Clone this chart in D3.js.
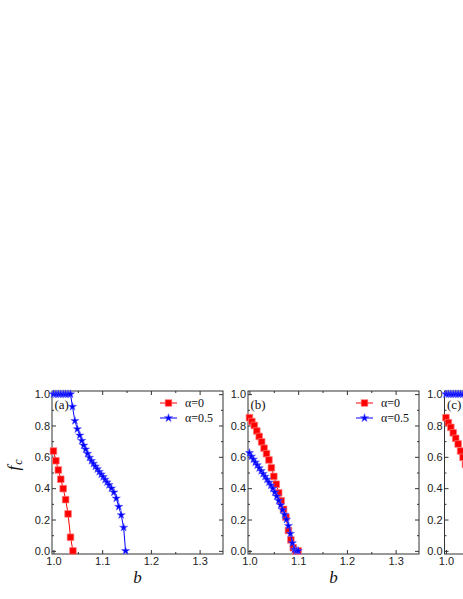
<!DOCTYPE html>
<html>
<head>
<meta charset="utf-8">
<script src="https://cdn.jsdelivr.net/npm/d3@7"></script>
<style>
  html, body { margin: 0; padding: 0; background: #fff; }
  svg { display: block; }
</style>
</head>
<body>
<svg id="chart" width="463" height="599"></svg>
<script>
// ---- data ----
const panelNames = ["(a)", "(b)", "(c)"];
const seriesNames = ["α=0", "α=0.5"];
const xTicks = [1.0, 1.1, 1.2, 1.3];
const xMinor = [1.05, 1.15, 1.25];
const yTicks = [0.0, 0.2, 0.4, 0.6, 0.8, 1.0];
const yMinor = [0.1, 0.3, 0.5, 0.7, 0.9];

// panel (a)
const redA_b = [1.000, 1.005, 1.010, 1.015, 1.020, 1.025, 1.030, 1.035, 1.040];
const redA_f = [0.637, 0.575, 0.516, 0.457, 0.397, 0.327, 0.236, 0.087, 0.000];
const blueA_b = [1.000, 1.005, 1.010, 1.015, 1.020, 1.025, 1.030, 1.035, 1.039, 1.044, 1.049,
                 1.054, 1.058, 1.062, 1.066, 1.070, 1.074, 1.078, 1.082, 1.086, 1.090, 1.094,
                 1.098, 1.102, 1.106, 1.110, 1.114, 1.119, 1.124, 1.129, 1.134, 1.139, 1.144, 1.148];
const blueA_f = [1.000, 1.000, 1.000, 1.000, 1.000, 1.000, 1.000, 1.000, 0.920, 0.830, 0.777,
                 0.737, 0.703, 0.673, 0.648, 0.620, 0.595, 0.575, 0.557, 0.539, 0.522, 0.505,
                 0.488, 0.472, 0.455, 0.438, 0.421, 0.399, 0.374, 0.335, 0.282, 0.229, 0.149, 0.000];

// panel (b)
const redB_b = [1.000, 1.005, 1.010, 1.015, 1.020, 1.025, 1.030, 1.035, 1.040, 1.045, 1.050,
                1.055, 1.060, 1.065, 1.070, 1.075, 1.080, 1.085, 1.090, 1.095, 1.100];
const redB_f = [0.850, 0.825, 0.800, 0.765, 0.730, 0.695, 0.655, 0.620, 0.580, 0.530, 0.475,
                0.425, 0.370, 0.320, 0.265, 0.215, 0.130, 0.070, 0.020, 0.000, 0.000];
const blueB_b = [1.000, 1.004, 1.008, 1.012, 1.016, 1.020, 1.024, 1.028, 1.032, 1.036, 1.040,
                 1.044, 1.048, 1.052, 1.056, 1.060, 1.064, 1.068, 1.072, 1.076, 1.080, 1.084,
                 1.088, 1.092, 1.096, 1.100];
const blueB_f = [0.625, 0.603, 0.584, 0.565, 0.547, 0.528, 0.510, 0.492, 0.474, 0.456, 0.437,
                 0.418, 0.398, 0.374, 0.348, 0.320, 0.292, 0.262, 0.232, 0.200, 0.160, 0.110,
                 0.050, 0.008, 0.000, 0.000];

// panel (c) (only its left edge is inside the picture)
const redC_b = [1.000, 1.005, 1.010, 1.015, 1.020, 1.025, 1.030, 1.035, 1.040];
const redC_f = [0.850, 0.818, 0.788, 0.753, 0.718, 0.682, 0.637, 0.597, 0.552];
const blueC_b = [1.000, 1.005, 1.010, 1.015, 1.020, 1.025, 1.030, 1.035, 1.040];
const blueC_f = [1.000, 1.000, 1.000, 1.000, 1.000, 1.000, 1.000, 1.000, 1.000];

// ---- layout ----
const W = 463, H = 599;
const panelLeft = [52, 248, 444.5];
const PW = 171, TOP = 391, BOTTOM = 554;
const RED = "#ff0000", BLUE = "#0000ff";
const SANS = "'Liberation Sans', Arial, sans-serif";
const SERIF = "'Liberation Serif', 'Times New Roman', serif";

const panels = [
  { red: [redA_b, redA_f], blue: [blueA_b, blueA_f], legend: true, xlabel: true },
  { red: [redB_b, redB_f], blue: [blueB_b, blueB_f], legend: true, xlabel: true },
  { red: [redC_b, redC_f], blue: [blueC_b, blueC_f], legend: false, xlabel: false }
];

const svg = d3.select("#chart");
svg.append("rect").attr("width", W).attr("height", H).attr("fill", "#fff");

const squareSym = d3.symbol().type(d3.symbolSquare).size(44);
const starSym = d3.symbol().type(d3.symbolStar).size(21);

panels.forEach((p, i) => {
  const L = panelLeft[i];
  const x = d3.scaleLinear().domain([0.997, 1.348]).range([L, L + PW]);
  const y = d3.scaleLinear().domain([-0.02, 1.02]).range([BOTTOM, TOP]);
  const g = svg.append("g");

  const fmt = d => (x(d) + 9 <= W ? d3.format(".1f")(d) : "");

  // bottom axis
  g.append("g").attr("transform", `translate(0,${BOTTOM})`)
    .call(d3.axisBottom(x).tickValues(xTicks).tickSize(-4).tickPadding(3).tickFormat(fmt));
  g.append("g").attr("transform", `translate(0,${BOTTOM})`)
    .call(d3.axisBottom(x).tickValues(xMinor).tickSize(-2).tickFormat(""));
  // top axis
  g.append("g").attr("transform", `translate(0,${TOP})`)
    .call(d3.axisTop(x).tickValues(xTicks).tickSize(-4).tickFormat(""));
  g.append("g").attr("transform", `translate(0,${TOP})`)
    .call(d3.axisTop(x).tickValues(xMinor).tickSize(-2).tickFormat(""));
  // left axis
  g.append("g").attr("transform", `translate(${L},0)`)
    .call(d3.axisLeft(y).tickValues(yTicks).tickSize(-4).tickPadding(2).tickFormat(d3.format(".1f")));
  g.append("g").attr("transform", `translate(${L},0)`)
    .call(d3.axisLeft(y).tickValues(yMinor).tickSize(-2).tickFormat(""));
  // right axis
  g.append("g").attr("transform", `translate(${L + PW},0)`)
    .call(d3.axisRight(y).tickValues(yTicks).tickSize(-4).tickFormat(""));
  g.append("g").attr("transform", `translate(${L + PW},0)`)
    .call(d3.axisRight(y).tickValues(yMinor).tickSize(-2).tickFormat(""));

  g.selectAll(".domain").remove();
  g.selectAll(".tick line").attr("stroke", "#333").attr("stroke-width", 1);
  g.selectAll(".tick text").attr("font-family", SANS).attr("font-size", 11).attr("fill", "#222");
  g.selectAll(".tick text").filter(function () { return this.textContent === ""; }).remove();

  // frame
  g.append("rect").attr("x", L).attr("y", TOP).attr("width", PW).attr("height", BOTTOM - TOP)
    .attr("fill", "none").attr("stroke", "#333").attr("stroke-width", 1);

  // series
  const line = d3.line().x(d => x(d[0])).y(d => y(d[1]));
  const redPts = p.red[0].map((b, k) => [b, p.red[1][k]]);
  const bluePts = p.blue[0].map((b, k) => [b, p.blue[1][k]]);

  g.append("path").datum(redPts).attr("d", line).attr("fill", "none")
    .attr("stroke", RED).attr("stroke-width", 1);
  g.selectAll(".sq").data(redPts).enter().append("path")
    .attr("transform", d => `translate(${x(d[0])},${y(d[1])})`)
    .attr("d", squareSym).attr("fill", RED).attr("stroke", "#ff7a7a").attr("stroke-width", 0.7);

  g.append("path").datum(bluePts).attr("d", line).attr("fill", "none")
    .attr("stroke", BLUE).attr("stroke-width", 1);
  g.selectAll(".st").data(bluePts).enter().append("path")
    .attr("transform", d => `translate(${x(d[0])},${y(d[1])})`)
    .attr("d", starSym).attr("fill", BLUE).attr("stroke", "#5a5aff").attr("stroke-width", 0.5);

  // panel label
  g.append("text").attr("x", L + 2.5).attr("y", 408.5)
    .attr("font-family", SERIF).attr("font-size", 13).attr("fill", "#111")
    .text(panelNames[i]);

  // legend
  if (p.legend) {
    const rows = [
      { name: seriesNames[0], color: RED, sym: squareSym, stroke: "#ff7a7a", yy: 403 },
      { name: seriesNames[1], color: BLUE, sym: starSym, stroke: "#5a5aff", yy: 418 }
    ];
    rows.forEach(r => {
      g.append("line").attr("x1", L + 108).attr("x2", L + 125).attr("y1", r.yy).attr("y2", r.yy)
        .attr("stroke", r.color).attr("stroke-width", 1);
      g.append("path").attr("transform", `translate(${L + 116.5},${r.yy})`)
        .attr("d", r.sym).attr("fill", r.color).attr("stroke", r.stroke).attr("stroke-width", 0.6);
      g.append("text").attr("x", L + 133).attr("y", r.yy + 4)
        .attr("font-family", SERIF).attr("font-size", 12).attr("fill", "#111")
        .text(r.name);
    });
  }

  // x label
  if (p.xlabel) {
    g.append("text").attr("x", L + PW / 2).attr("y", 583)
      .attr("text-anchor", "middle").attr("font-family", SERIF).attr("font-style", "italic")
      .attr("font-size", 17).attr("fill", "#111").text("b");
  }
});

// y label f_c
const yl = svg.append("text")
  .attr("transform", "translate(19,465) rotate(-90)")
  .attr("text-anchor", "middle").attr("font-family", SERIF).attr("font-style", "italic")
  .attr("font-size", 17).attr("fill", "#111");
yl.append("tspan").text("f");
yl.append("tspan").attr("font-size", 12).attr("dy", "0.25em").attr("dx", "1").text("c");
</script>
</body>
</html>
